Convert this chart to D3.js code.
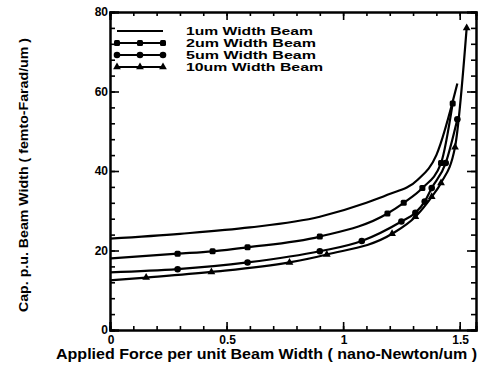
<!DOCTYPE html>
<html>
<head>
<meta charset="utf-8">
<script src="https://cdn.jsdelivr.net/npm/d3@7"></script>
<style>
  body { margin: 0; background: #fff; }
  text { font-family: "Liberation Sans", Arial, sans-serif; font-weight: bold; fill: #000; }
</style>
</head>
<body>
<div id="chart"></div>
<script>
// values
const seriesNames = ['1um Width Beam', '2um Width Beam', '5um Width Beam', '10um Width Beam'];
const markerTypes = ['none', 'square', 'circle', 'triangle'];

const force1 = [0, 0.3, 0.6, 0.9, 1.1, 1.19, 1.32, 1.40, 1.49];
const cap1 = [23, 24.2, 25.8, 28.5, 32, 34, 37.8, 44, 62];

const force2 = [0, 0.29, 0.44, 0.59, 0.90, 1.19, 1.26, 1.34, 1.42, 1.47];
const cap2 = [18, 19.2, 19.8, 20.8, 23.5, 29.3, 32, 35.7, 42, 57];

const force5 = [0, 0.29, 0.59, 0.90, 1.08, 1.25, 1.31, 1.35, 1.38, 1.44, 1.49];
const cap5 = [14.5, 15.3, 17, 19.8, 22.4, 27.3, 29.5, 32.3, 35.7, 42, 53];

const force10 = [0, 0.155, 0.435, 0.77, 0.93, 1.21, 1.31, 1.38, 1.42, 1.48, 1.53];
const cap10 = [12.5, 13.2, 14.6, 17, 19, 24.2, 28.5, 33.5, 37, 46, 76];

const xTickLabels = [0, 0.5, 1, 1.5];
const yTickLabels = [0, 20, 40, 60, 80];

const width = 482, height = 368;
const margin = { top: 12, right: 6, bottom: 38, left: 110 };

const svg = d3.select('#chart')
  .append('svg')
  .attr('width', width)
  .attr('height', height);

const x = d3.scaleLinear().domain([0, 1.57]).range([margin.left, width - margin.right]);
const y = d3.scaleLinear().domain([0, 80]).range([height - margin.bottom, margin.top]);

const xMinor = d3.range(0, 1.57, 0.1).map(v => +v.toFixed(2));
const yMinor = d3.range(0, 81, 4);

// frame with inward ticks on all sides
const bottomAxis = d3.axisBottom(x).tickValues(xMinor).tickSize(-4).tickFormat('');
const topAxis = d3.axisTop(x).tickValues(xMinor).tickSize(-4).tickFormat('');
const leftAxis = d3.axisLeft(y).tickValues(yMinor).tickSize(-5).tickFormat('');
const rightAxis = d3.axisRight(y).tickValues(yMinor).tickSize(-5).tickFormat('');

function styleAxis(g) {
  g.select('.domain').attr('stroke', '#000').attr('stroke-width', 2);
  g.selectAll('.tick line').attr('stroke', '#000').attr('stroke-width', 1.6);
}

svg.append('g').attr('transform', `translate(0,${y(0)})`).call(bottomAxis).call(styleAxis);
svg.append('g').attr('transform', `translate(0,${y(80)})`).call(topAxis).call(styleAxis);
svg.append('g').attr('transform', `translate(${x(0)},0)`).call(leftAxis).call(styleAxis);
svg.append('g').attr('transform', `translate(${x(1.57)},0)`).call(rightAxis).call(styleAxis);

// longer major ticks
svg.append('g').attr('transform', `translate(0,${y(0)})`)
  .call(d3.axisBottom(x).tickValues(xTickLabels).tickSize(-8).tickFormat(''))
  .call(styleAxis);
svg.append('g').attr('transform', `translate(0,${y(80)})`)
  .call(d3.axisTop(x).tickValues(xTickLabels).tickSize(-8).tickFormat(''))
  .call(styleAxis);
svg.append('g').attr('transform', `translate(${x(0)},0)`)
  .call(d3.axisLeft(y).tickValues(yTickLabels).tickSize(-9).tickFormat(''))
  .call(styleAxis);
svg.append('g').attr('transform', `translate(${x(1.57)},0)`)
  .call(d3.axisRight(y).tickValues(yTickLabels).tickSize(-9).tickFormat(''))
  .call(styleAxis);

// tick labels
svg.selectAll('.xlab')
  .data(xTickLabels)
  .enter()
  .append('text')
  .attr('x', d => x(d) + 1)
  .attr('y', y(0) + 14)
  .attr('text-anchor', 'middle')
  .style('font-size', '12px')
  .text(d => d);

svg.selectAll('.ylab')
  .data(yTickLabels)
  .enter()
  .append('text')
  .attr('x', x(0) - 2)
  .attr('y', d => y(d) + 4)
  .attr('text-anchor', 'end')
  .style('font-size', '12px')
  .text(d => d);

// axis titles
svg.append('text')
  .attr('x', 56)
  .attr('y', 359)
  .attr('textLength', 421)
  .attr('lengthAdjust', 'spacingAndGlyphs')
  .style('font-size', '14.5px')
  .text('Applied Force per unit Beam Width ( nano-Newton/um )');

svg.append('text')
  .attr('transform', `translate(28,312) rotate(-90)`)
  .attr('textLength', 274)
  .attr('lengthAdjust', 'spacingAndGlyphs')
  .style('font-size', '13.5px')
  .text('Cap. p.u. Beam Width ( femto-Farad/um )');

// curves
const series = [
  { name: seriesNames[0], marker: markerTypes[0], pts: force1.map((f, i) => [f, cap1[i]]) },
  { name: seriesNames[1], marker: markerTypes[1], pts: force2.map((f, i) => [f, cap2[i]]) },
  { name: seriesNames[2], marker: markerTypes[2], pts: force5.map((f, i) => [f, cap5[i]]) },
  { name: seriesNames[3], marker: markerTypes[3], pts: force10.map((f, i) => [f, cap10[i]]) }
];

const line = d3.line()
  .x(d => x(d[0]))
  .y(d => y(d[1]))
  .curve(d3.curveMonotoneX);

svg.selectAll('.curve')
  .data(series)
  .enter()
  .append('path')
  .attr('class', 'curve')
  .attr('d', d => line(d.pts))
  .attr('fill', 'none')
  .attr('stroke', '#000')
  .attr('stroke-width', 2.2);

function drawMarker(g, type, cx, cy) {
  if (type === 'square') {
    g.append('rect').attr('x', cx - 3).attr('y', cy - 3).attr('width', 6).attr('height', 6)
      .attr('rx', 1.5).attr('fill', '#000');
  } else if (type === 'circle') {
    g.append('circle').attr('cx', cx).attr('cy', cy).attr('r', 3.3).attr('fill', '#000');
  } else if (type === 'triangle') {
    g.append('path')
      .attr('d', d3.symbol().type(d3.symbolTriangle).size(26)())
      .attr('transform', `translate(${cx},${cy})`)
      .attr('fill', '#000');
  }
}

const markerG = svg.append('g');
series.forEach(s => {
  if (s.marker === 'none') return;
  s.pts.slice(1).forEach(p => drawMarker(markerG, s.marker, x(p[0]), y(p[1])));
});

// legend
const legendRows = [31, 43, 55, 67];
const legendLen = [127, 130, 130, 137];
const legend = svg.append('g');
series.forEach((s, i) => {
  const ly = legendRows[i];
  legend.append('line')
    .attr('x1', 117).attr('x2', 163)
    .attr('y1', ly).attr('y2', ly)
    .attr('stroke', '#000').attr('stroke-width', 2.2);
  if (s.marker !== 'none') {
    [117, 140, 163].forEach(mx => drawMarker(legend, s.marker, mx, ly));
  }
  legend.append('text')
    .attr('x', 186)
    .attr('y', ly + 4)
    .attr('textLength', legendLen[i])
    .attr('lengthAdjust', 'spacingAndGlyphs')
    .style('font-size', '10.5px')
    .text(s.name);
});
</script>
</body>
</html>
